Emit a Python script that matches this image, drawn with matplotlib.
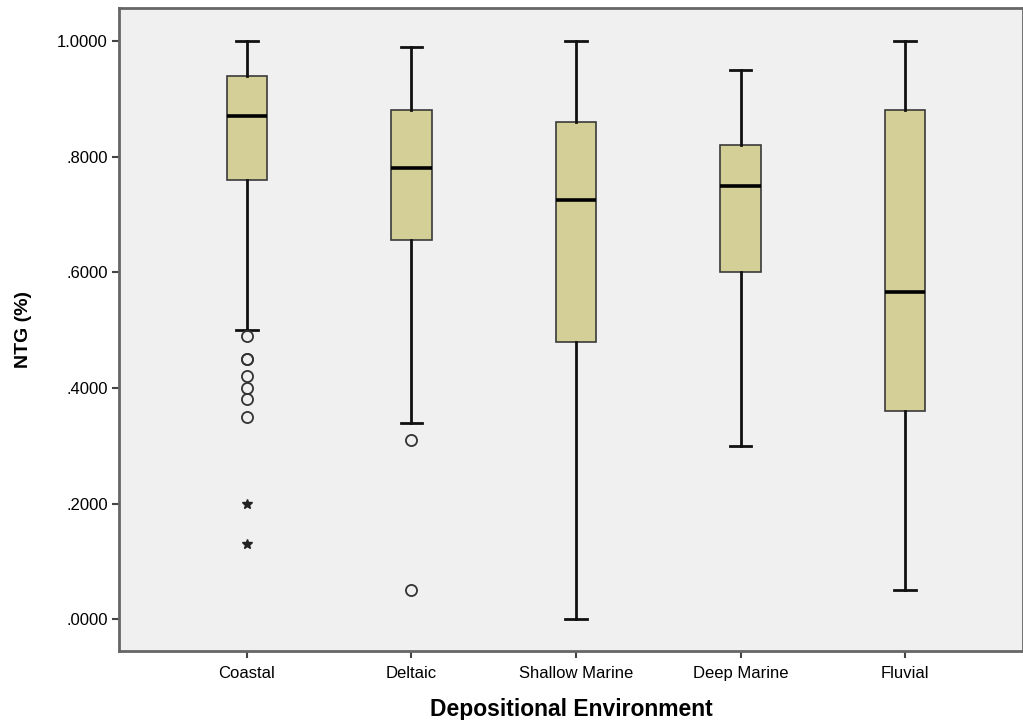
import matplotlib
matplotlib.use("Agg")
import matplotlib.pyplot as plt
from matplotlib.ticker import FuncFormatter

plt.rcParams['font.family'] = ['Liberation Sans', 'DejaVu Sans']

# values
environments = ['Coastal', 'Deltaic', 'Shallow Marine', 'Deep Marine', 'Fluvial']
whisker_low = [0.50, 0.34, 0.00, 0.30, 0.05]
q1 = [0.76, 0.655, 0.48, 0.60, 0.36]
median = [0.87, 0.78, 0.725, 0.75, 0.565]
q3 = [0.94, 0.88, 0.86, 0.82, 0.88]
whisker_high = [1.00, 0.99, 1.00, 0.95, 1.00]
outliers = [[0.49, 0.45, 0.45, 0.42, 0.40, 0.38, 0.35], [0.31, 0.05], [], [], []]
extremes = [[0.20, 0.13], [], [], [], []]
yticks = [0.0, 0.2, 0.4, 0.6, 0.8, 1.0]

stats = []
for i, name in enumerate(environments):
    stats.append({'label': name, 'whislo': whisker_low[i], 'q1': q1[i], 'med': median[i],
                  'q3': q3[i], 'whishi': whisker_high[i], 'fliers': outliers[i]})

fig = plt.figure(figsize=(10.23, 7.2), dpi=100)
ax = fig.add_axes([0.1163, 0.0958, 0.8837, 0.8931])
ax.set_facecolor('#f0f0f0')

positions = list(range(1, len(environments) + 1))
ax.bxp(stats, positions=positions, widths=0.245, patch_artist=True,
       boxprops=dict(facecolor='#d3cf97', edgecolor='#3a3a3a', linewidth=1.2),
       medianprops=dict(color='black', linewidth=2.6),
       whiskerprops=dict(color='#111111', linewidth=2.0),
       capprops=dict(color='#111111', linewidth=2.0),
       capwidths=0.13,
       flierprops=dict(marker='o', markerfacecolor='none', markeredgecolor='#333333',
                       markersize=8, markeredgewidth=1.3))

for pos, vals in zip(positions, extremes):
    if vals:
        ax.plot([pos] * len(vals), vals, linestyle='none', marker='*', color='#222222',
                markersize=7.5)

ax.set_xlim(0.222, 5.717)
ax.set_ylim(-0.055, 1.057)
ax.set_yticks(yticks)
ax.yaxis.set_major_formatter(FuncFormatter(lambda v, p: ('%.4f' % v).lstrip('0') if v < 1 else '%.4f' % v))
ax.set_xticks(positions)
ax.set_xticklabels(environments)
ax.tick_params(axis='both', labelsize=12, color='#444444', width=1.5, length=5, pad=3)
ax.tick_params(axis='x', pad=6)

for side in ['left', 'bottom', 'top', 'right']:
    ax.spines[side].set_color('#666666')
    ax.spines[side].set_linewidth(2)

ax.set_xlabel('Depositional Environment', fontsize=16.5, fontweight='bold', labelpad=12)
ax.set_ylabel('NTG (%)', fontsize=14, fontweight='bold', labelpad=18)

fig.savefig('out.png', dpi=100)
